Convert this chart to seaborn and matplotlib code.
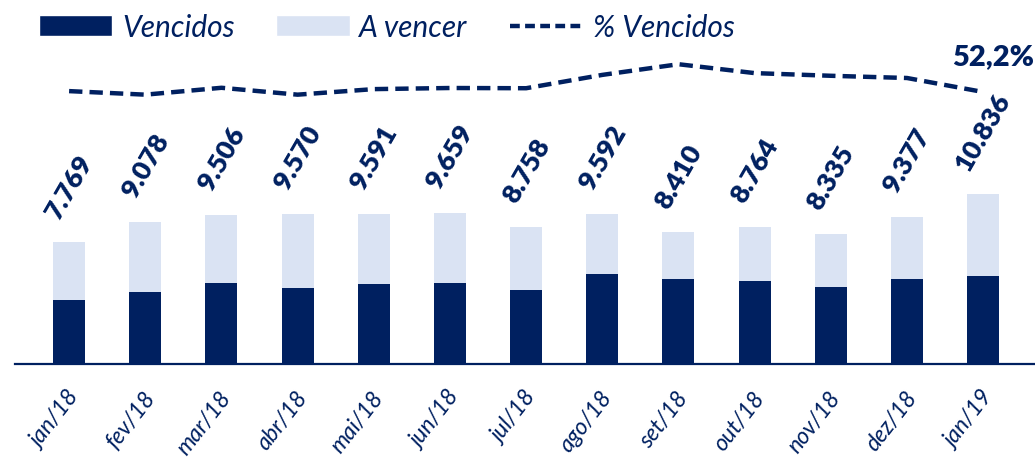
import matplotlib
matplotlib.use("Agg")
import matplotlib.pyplot as plt
import matplotlib.transforms as mtransforms
import seaborn as sns
import numpy as np
import pandas as pd
from matplotlib.lines import Line2D
from matplotlib.patches import Patch

# ── Data ─────────────────────────────────────────────────────────────────────
meses = ["jan/18", "fev/18", "mar/18", "abr/18", "mai/18", "jun/18", "jul/18",
         "ago/18", "set/18", "out/18", "nov/18", "dez/18", "jan/19"]
total = [7769, 9078, 9506, 9570, 9591, 9659, 8758, 9592, 8410, 8764, 8335, 9377, 10836]
vencidos = [4090, 4620, 5150, 4850, 5110, 5200, 4700, 5780, 5430, 5290, 4940, 5450, 5650]
pct_vencidos = [52.6, 51.0, 54.1, 51.0, 53.5, 54.0, 53.9, 59.9, 64.7, 60.7, 59.5, 58.5, 52.2]

df = pd.DataFrame({"mes": meses, "total": total, "vencidos": vencidos, "pct": pct_vencidos})
df["pos"] = np.arange(len(df))

NAVY = "#002060"
LIGHT = "#DAE3F3"

sns.set_style("white")
plt.rcParams["font.family"] = ["Lato", "DejaVu Sans"]

fig = plt.figure(figsize=(10.35, 4.6), dpi=100)
ax = fig.add_axes([15 / 1035, 95 / 460, 1020 / 1035, 365 / 460])

# stacked bars: total (light) behind, vencidos (dark) in front
sns.barplot(data=df, x="mes", y="total", color=LIGHT, width=0.42,
            saturation=1, ax=ax, edgecolor="none")
sns.barplot(data=df, x="mes", y="vencidos", color=NAVY, width=0.42,
            saturation=1, ax=ax, edgecolor="none")

ax.set_xlim(-0.71, 12.68)
ax.set_ylim(0, 23320)
ax.set_xlabel("")
ax.set_ylabel("")
ax.set_yticks([])
for s in ["top", "right", "left"]:
    ax.spines[s].set_visible(False)
ax.spines["bottom"].set_color(NAVY)
ax.spines["bottom"].set_linewidth(1.6)
ax.tick_params(axis="x", length=0, pad=21, colors=NAVY)
shift = mtransforms.ScaledTranslation(4 / 72, 0, fig.dpi_scale_trans)
for lab in ax.get_xticklabels():
    lab.set_rotation(52)
    lab.set_ha("right")
    lab.set_rotation_mode("anchor")
    lab.set_va("center")
    lab.set_fontsize(16.5)
    lab.set_fontstyle("italic")
    lab.set_transform(lab.get_transform() + shift)

# total labels
for _, r in df.iterrows():
    ax.annotate(f"{r['total']:,}".replace(",", "."), xy=(r["pos"], r["total"]),
                xytext=(0, 15), textcoords="offset points", ha="center", va="bottom",
                rotation=60, fontsize=19.5, fontweight="heavy", color=NAVY)

# % vencidos line on hidden secondary axis
ax2 = ax.twinx()
sns.lineplot(data=df, x="pos", y="pct", ax=ax2, color=NAVY, linewidth=3.2,
             dashes=False, legend=False)
ax2.lines[0].set_dashes((3, 1.6))
ax2.set_ylim(-70.2, 94.05)
ax2.set_xlim(-0.71, 12.68)
ax2.set_yticks([])
ax2.set_ylabel("")
ax2.set_xlabel("")
for s in ax2.spines.values():
    s.set_visible(False)

last = df.iloc[-1]
ax2.annotate(f"{last['pct']:.1f}%".replace(".", ","), xy=(last["pos"], last["pct"]),
             xytext=(7, 26), textcoords="offset points", ha="center", va="center",
             fontsize=21, fontweight="heavy", color=NAVY)

handles = [Patch(facecolor=NAVY, label="Vencidos"),
           Patch(facecolor=LIGHT, label="A vencer"),
           Line2D([0], [0], color=NAVY, linewidth=3.2, dashes=(2.2, 1.2), label="% Vencidos")]
leg = fig.legend(handles=handles, loc="center left", bbox_to_anchor=(39 / 1035, 1 - 28 / 460),
                 ncol=3, frameon=False, handlelength=2.45, handleheight=0.7,
                 handletextpad=0.33, columnspacing=1.4, borderaxespad=0, borderpad=0,
                 prop={"size": 21.5, "style": "italic"})
for t in leg.get_texts():
    t.set_color(NAVY)

fig.savefig("out.png", dpi=100)
